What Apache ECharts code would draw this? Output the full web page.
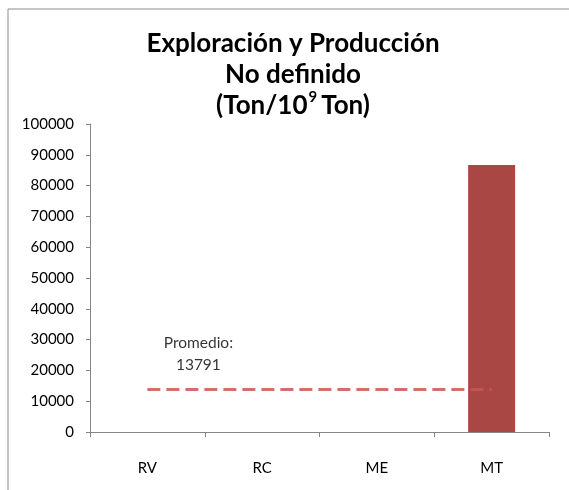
<!DOCTYPE html>
<html>
<head>
<meta charset="utf-8">
<script src="https://cdn.jsdelivr.net/npm/echarts@6/dist/echarts.min.js"></script>
<style>
  html,body{margin:0;padding:0;background:#fff;}
  #main{width:569px;height:490px;}
</style>
</head>
<body>
<div id="main"></div>
<script>
// datos
var categorias = ['RV', 'RC', 'ME', 'MT'];
var valores = [0, 0, 0, 86700];
var promedio = 13791;
var lineaProm = [promedio, promedio, promedio, promedio];
var etiquetaProm = [['RV', promedio]];

var fuente = 'Lato';
var myChart = echarts.init(document.getElementById('main'));

myChart.setOption({
  animation: false,
  backgroundColor: '#fff',
  title: {
    text: 'Exploración y Producción\nNo definido\n{p|(Ton/10}{s|9}{p|Ton)}',
    left: 293,
    top: 28,
    padding: 0,
    textAlign: 'center',
    textStyle: {
      fontFamily: fuente,
      fontSize: 26,
      fontWeight: 'bold',
      color: '#000',
      lineHeight: 31,
      rich: {
        p: {fontFamily: fuente, fontSize: 26, fontWeight: 'bold', color: '#000', lineHeight: 31},
        s: {fontFamily: fuente, fontSize: 15, fontWeight: 'bold', color: '#000', lineHeight: 31, verticalAlign: 'top', padding: [0, 4, 0, 1]}
      }
    }
  },
  graphic: [{
    type: 'rect',
    shape: {x: 8, y: 9, width: 700, height: 700},
    style: {fill: 'none', stroke: '#8c8c8c', lineWidth: 1},
    silent: true
  }],
  grid: {left: 90, right: 20, top: 124, bottom: 58},
  xAxis: {
    type: 'category',
    data: categorias,
    axisLine: {lineStyle: {color: '#868686'}},
    axisTick: {show: true, length: 5, lineStyle: {color: '#868686'}},
    axisLabel: {fontFamily: fuente, fontSize: 15, color: '#000', margin: 29}
  },
  yAxis: {
    type: 'value',
    min: 0,
    max: 100000,
    interval: 10000,
    axisLine: {show: true, lineStyle: {color: '#868686'}},
    axisTick: {show: true, length: 4, lineStyle: {color: '#868686'}},
    splitLine: {show: false},
    axisLabel: {fontFamily: fuente, fontSize: 15, color: '#000', margin: 16, formatter: function (v) { return String(v); }}
  },
  series: [{
    type: 'bar',
    data: valores,
    barWidth: 47,
    itemStyle: {color: '#a94744'}
  }, {
    type: 'line',
    data: lineaProm,
    symbol: 'none',
    z: 5,
    lineStyle: {color: 'rgba(205,85,80,0.85)', width: 3, type: [13, 6]}
  }, {
    // etiqueta "Promedio"
    type: 'scatter',
    data: etiquetaProm,
    symbolSize: 1,
    itemStyle: {color: 'rgba(0,0,0,0)'},
    z: 6,
    label: {
      show: true,
      position: 'top',
      formatter: 'Promedio:\n' + promedio,
      fontFamily: fuente,
      fontSize: 15.5,
      color: '#000',
      lineHeight: 22,
      align: 'center',
      offset: [51, -8]
    }
  }]
});
</script>
</body>
</html>
